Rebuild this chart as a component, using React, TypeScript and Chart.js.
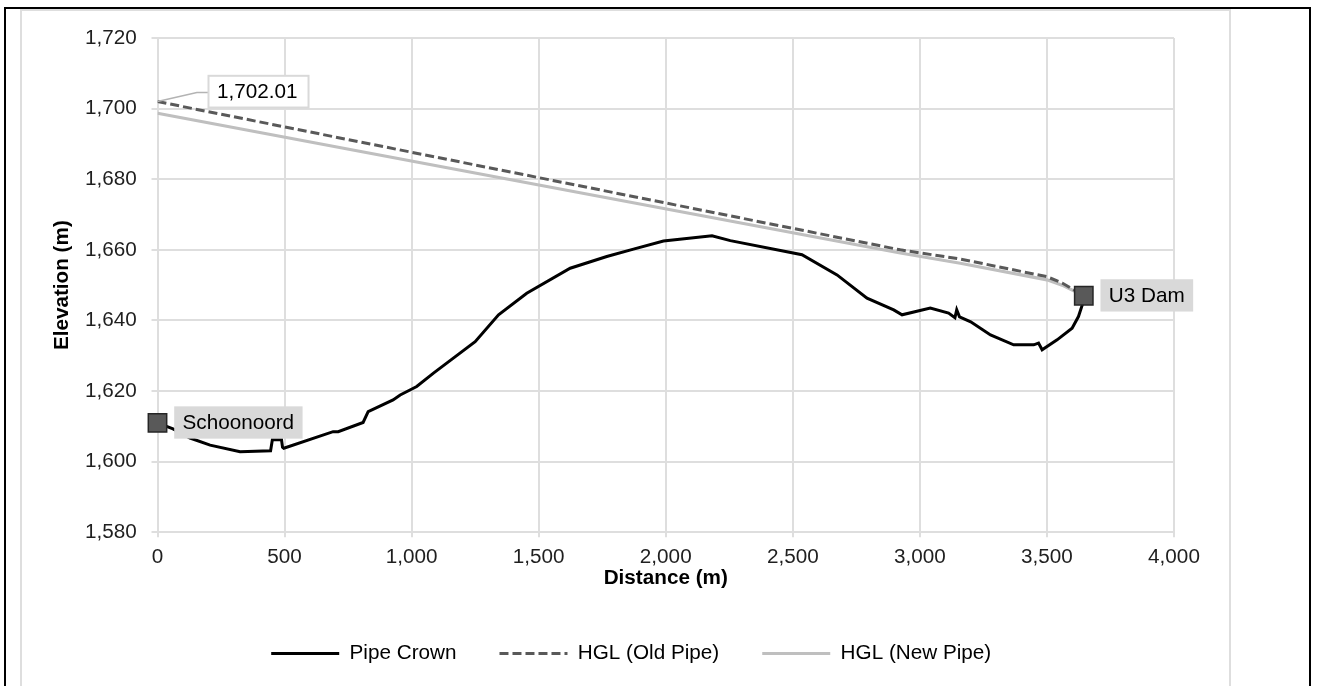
import React, { useEffect, useRef } from 'react';
import { Chart, registerables } from 'chart.js';

Chart.register(...registerables);

// ---------------- data ----------------
const crownDistance = [
  0, 61, 128, 207, 325, 445, 452, 488, 492, 497, 691, 711, 809, 829, 927, 955, 1020, 1086,
  1250, 1342, 1453, 1624, 1768, 1873, 1991, 2182, 2254, 2536, 2674, 2792, 2897, 2930, 3041,
  3113, 3138, 3145, 3156, 3200, 3278, 3369, 3448, 3467, 3481, 3540, 3599, 3624, 3639, 3645,
];
const crownElevation = [
  1611.0, 1609.3, 1606.7, 1604.7, 1602.8, 1603.1, 1606.2, 1606.2, 1604.1, 1603.8, 1608.5, 1608.5,
  1611.1, 1614.2, 1617.5, 1618.9, 1621.3, 1625.1, 1634.0, 1641.6, 1647.7, 1654.8, 1658.1, 1660.2,
  1662.5, 1664.0, 1662.6, 1658.6, 1652.9, 1646.3, 1643.0, 1641.6, 1643.5, 1642.1, 1640.8, 1643.0,
  1641.0, 1639.6, 1635.9, 1633.1, 1633.1, 1633.6, 1631.7, 1634.5, 1637.8, 1641.1, 1644.4, 1647.0,
];
const oldHglDistance = [0, 2923, 3159, 3500, 3560, 3645];
const oldHglElevation = [1702.01, 1660.0, 1657.4, 1652.4, 1650.6, 1647.0];
const newHglDistance = [0, 2923, 3159, 3500, 3560, 3645];
const newHglElevation = [1698.7, 1659.1, 1656.2, 1651.5, 1650.0, 1647.0];

const seriesLabels = ['Pipe Crown', 'HGL (Old Pipe)', 'HGL (New Pipe)'];
const endpointNames = ['Schoonoord', 'U3 Dam'];
const xAxisTitle = 'Distance (m)';
const yAxisTitle = 'Elevation (m)';
const xRange = [0, 4000, 500];
const yRange = [1580, 1720, 20];

// ---------------- styles ----------------
const FAMILY = "'Liberation Sans', Arial, sans-serif";
const FS = 20.7;
const GRID = '#dedede';

const fmt = (v: number) => Number(v).toLocaleString('en-US');

const annotationPlugin = {
  id: 'pointAnnotations',
  afterDatasetsDraw(chart: any) {
    const { ctx, scales } = chart;
    const x = scales.x;
    const y = scales.y;
    ctx.save();
    ctx.font = `${FS}px ${FAMILY}`;
    ctx.textBaseline = 'middle';
    ctx.textAlign = 'left';

    // value label on old HGL start
    const px = x.getPixelForValue(oldHglDistance[0]);
    const py = y.getPixelForValue(oldHglElevation[0]);
    const valText = oldHglElevation[0].toLocaleString('en-US', { minimumFractionDigits: 2 });
    const vw = ctx.measureText(valText).width;
    const bx = px + 51;
    const by = py - 25.7;
    const bh = 31.7;
    ctx.strokeStyle = '#b3b3b3';
    ctx.lineWidth = 1.5;
    ctx.beginPath();
    ctx.moveTo(px, py);
    ctx.lineTo(px + 39.4, py - 9);
    ctx.lineTo(bx, py - 9);
    ctx.stroke();
    ctx.fillStyle = '#ffffff';
    ctx.fillRect(bx, by, vw + 19.5, bh);
    ctx.strokeStyle = '#d9d9d9';
    ctx.lineWidth = 2;
    ctx.strokeRect(bx, by, vw + 19.5, bh);
    ctx.fillStyle = '#000';
    ctx.fillText(valText, bx + 8.4, by + bh / 2 + 0.5);

    // endpoint name labels
    const ends = [
      [crownDistance[0], crownElevation[0]],
      [crownDistance[crownDistance.length - 1], crownElevation[crownElevation.length - 1]],
    ];
    ends.forEach(([d, e], i) => {
      const mx = x.getPixelForValue(d);
      const my = y.getPixelForValue(e);
      const name = endpointNames[i];
      const tw = ctx.measureText(name).width;
      const lx = mx + 16.7;
      const ly = my - 16.5;
      const lh = 32.3;
      ctx.fillStyle = '#d9d9d9';
      ctx.fillRect(lx, ly, tw + 16.8, lh);
      ctx.fillStyle = '#000';
      ctx.fillText(name, lx + 8.3, ly + lh / 2 + 0.5);
    });
    ctx.restore();
  },
};

export default function App() {
  const ref = useRef<HTMLCanvasElement | null>(null);

  useEffect(() => {
    if (!ref.current) return;
    Chart.defaults.font.family = FAMILY;
    Chart.defaults.font.size = FS;
    Chart.defaults.color = '#1f1f1f';

    const toXY = (xs: number[], ys: number[]) => xs.map((v, i) => ({ x: v, y: ys[i] }));

    const chart = new Chart(ref.current, {
      type: 'line',
      data: {
        datasets: [
          {
            label: seriesLabels[0],
            data: toXY(crownDistance, crownElevation),
            borderColor: '#000000',
            backgroundColor: '#000000',
            borderWidth: 3,
            pointRadius: 0,
            tension: 0,
            order: 1,
          },
          {
            label: seriesLabels[1],
            data: toXY(oldHglDistance, oldHglElevation),
            borderColor: '#595959',
            backgroundColor: '#595959',
            borderWidth: 3,
            borderDash: [9, 4],
            pointRadius: 0,
            tension: 0,
            order: 2,
          },
          {
            label: seriesLabels[2],
            data: toXY(newHglDistance, newHglElevation),
            borderColor: '#bfbfbf',
            backgroundColor: '#bfbfbf',
            borderWidth: 3.2,
            pointRadius: 0,
            tension: 0,
            order: 3,
          },
          {
            label: 'Endpoints',
            data: [
              { x: crownDistance[0], y: crownElevation[0] },
              { x: crownDistance[crownDistance.length - 1], y: crownElevation[crownElevation.length - 1] },
            ],
            showLine: false,
            pointStyle: 'rect',
            pointRadius: 13,
            pointBackgroundColor: '#595959',
            pointBorderColor: '#262626',
            pointBorderWidth: 1.5,
            clip: false,
            order: 0,
          } as any,
        ],
      },
      options: {
        animation: false,
        responsive: false,
        events: [],
        layout: { padding: { left: 11.4, right: 0, top: 0, bottom: 12.15 } },
        scales: {
          x: {
            type: 'linear',
            min: xRange[0],
            max: xRange[1],
            ticks: {
              stepSize: xRange[2],
              padding: 7.4,
              color: '#1f1f1f',
              font: { size: FS, family: FAMILY },
              callback: (v: any) => fmt(v),
            },
            grid: { color: GRID, lineWidth: 2, tickLength: 5, drawTicks: true },
            border: { color: GRID, width: 2 },
            title: {
              display: true,
              text: xAxisTitle,
              color: '#000',
              font: { size: FS, weight: 'bold', family: FAMILY },
              padding: { top: 0, bottom: 9 },
            },
            afterFit: (s: any) => {
              s.height = 67.85;
              s.paddingRight = 56;
              s.paddingLeft = 0;
            },
          },
          y: {
            type: 'linear',
            min: yRange[0],
            max: yRange[1],
            ticks: {
              stepSize: yRange[2],
              padding: 14.8,
              color: '#1f1f1f',
              font: { size: FS, family: FAMILY },
              callback: (v: any) => fmt(v),
            },
            grid: { color: GRID, lineWidth: 2, tickLength: 6, drawTicks: true },
            border: { color: GRID, width: 2 },
            title: {
              display: true,
              text: yAxisTitle,
              color: '#000',
              font: { size: FS, weight: 'bold', family: FAMILY },
              padding: { top: 17, bottom: 0 },
            },
            afterFit: (s: any) => {
              s.width = 125.1;
              s.paddingTop = 28;
              s.paddingBottom = 0;
            },
          },
        },
        plugins: {
          tooltip: { enabled: false },
          legend: {
            position: 'bottom',
            labels: {
              usePointStyle: true,
              pointStyle: 'line',
              pointStyleWidth: 68,
              padding: 43,
              color: '#000',
              font: { size: FS, family: FAMILY },
              generateLabels: (c: any) => {
                const base = (Chart.defaults.plugins.legend.labels as any).generateLabels(c);
                return base
                  .filter((it: any) => it.datasetIndex < 3)
                  .map((it: any) => {
                    const ds: any = c.data.datasets[it.datasetIndex];
                    return {
                      ...it,
                      lineDash: ds.borderDash || [],
                      lineWidth: ds.borderWidth,
                      strokeStyle: ds.borderColor,
                      pointStyle: 'line',
                    };
                  });
              },
            },
          },
        },
      } as any,
      plugins: [annotationPlugin],
    });
    return () => chart.destroy();
  }, []);

  return (
    <div style={{ position: 'fixed', left: 0, top: 0, width: 1318, height: 686, overflow: 'hidden', background: '#fff' }}>
      <div
        style={{
          position: 'absolute', left: 4, top: 7, width: 1307, height: 720,
          border: '2px solid #000', boxSizing: 'border-box',
        }}
      />
      <div
        style={{
          position: 'absolute', left: 20, top: 9, width: 1211, height: 720,
          border: '2px solid #dedede', boxSizing: 'border-box', background: '#fff',
        }}
      />
      <canvas
        ref={ref}
        width={1209}
        height={676}
        style={{ position: 'absolute', left: 21, top: 10, width: 1209, height: 676, display: 'block' }}
      />
    </div>
  );
}
